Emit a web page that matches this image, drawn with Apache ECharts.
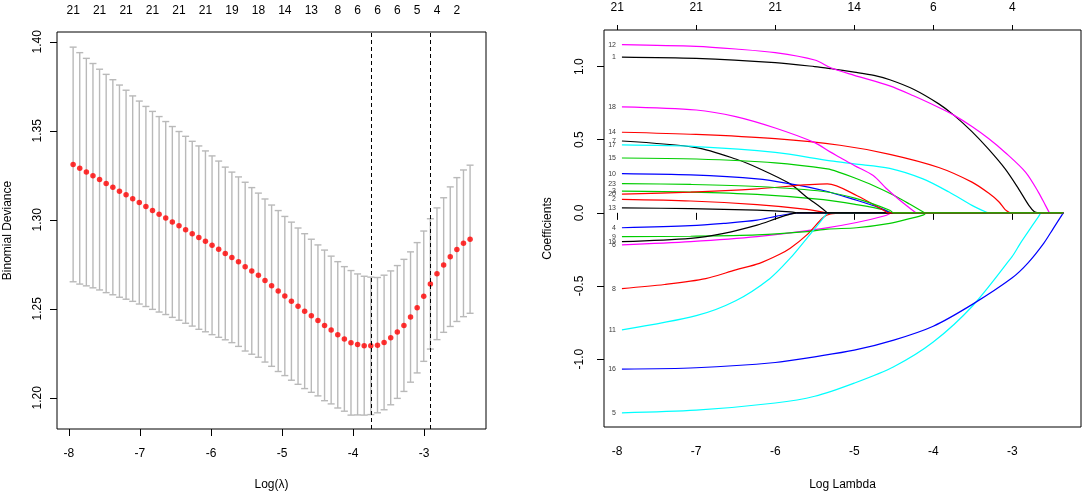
<!DOCTYPE html>
<html>
<head>
<meta charset="utf-8">
<title>cv.glmnet</title>
<script src="https://cdn.jsdelivr.net/npm/echarts@6/dist/echarts.min.js"></script>
<style>
  html, body { margin: 0; padding: 0; background: #fff; }
  #chart { width: 1084px; height: 496px; }
</style>
</head>
<body>
<div id="chart"></div>
<script>
// ---- left panel: cross-validated binomial deviance ----
var logLambda = [-7.940,-7.847,-7.754,-7.661,-7.568,-7.475,-7.381,-7.288,-7.195,-7.102,
  -7.009,-6.916,-6.823,-6.730,-6.637,-6.544,-6.450,-6.357,-6.264,-6.171,
  -6.078,-5.985,-5.892,-5.799,-5.706,-5.613,-5.519,-5.426,-5.333,-5.240,
  -5.147,-5.054,-4.961,-4.868,-4.775,-4.682,-4.588,-4.495,-4.402,-4.309,
  -4.216,-4.123,-4.030,-3.937,-3.844,-3.751,-3.657,-3.564,-3.471,-3.378,
  -3.285,-3.192,-3.099,-3.006,-2.913,-2.820,-2.726,-2.633,-2.540,-2.447,-2.354];
var cvMean = [1.3311,1.3289,1.3268,1.3248,1.3226,1.3204,1.3183,1.3161,1.3141,1.3119,
  1.3097,1.3075,1.3053,1.3031,1.3010,1.2988,1.2966,1.2944,1.2922,1.2900,
  1.2879,1.2857,1.2835,1.2811,1.2789,1.2765,1.2737,1.2713,1.2689,1.2659,
  1.2630,1.2600,1.2572,1.2543,1.2515,1.2487,1.2461,1.2435,1.2407,1.2381,
  1.2354,1.2331,1.2309,1.2300,1.2293,1.2292,1.2296,1.2311,1.2337,1.2370,
  1.2407,1.2454,1.2506,1.2571,1.2640,1.2697,1.2746,1.2793,1.2833,1.2868,1.2891];
var cvUpper = [1.3970,1.3939,1.3907,1.3878,1.3846,1.3817,1.3787,1.3757,1.3728,1.3696,
  1.3667,1.3637,1.3609,1.3580,1.3552,1.3524,1.3496,1.3469,1.3441,1.3415,
  1.3387,1.3359,1.3330,1.3296,1.3268,1.3241,1.3211,1.3181,1.3150,1.3117,
  1.3083,1.3052,1.3019,1.2987,1.2954,1.2922,1.2891,1.2859,1.2830,1.2796,
  1.2765,1.2737,1.2715,1.2696,1.2683,1.2678,1.2676,1.2689,1.2713,1.2743,
  1.2778,1.2820,1.2872,1.2937,1.3006,1.3067,1.3124,1.3185,1.3237,1.3280,1.3307];
var cvLower = [1.2652,1.2639,1.2629,1.2618,1.2606,1.2591,1.2579,1.2565,1.2554,1.2542,
  1.2527,1.2513,1.2497,1.2482,1.2468,1.2452,1.2436,1.2419,1.2403,1.2385,
  1.2371,1.2355,1.2340,1.2326,1.2310,1.2289,1.2263,1.2245,1.2228,1.2201,
  1.2177,1.2148,1.2125,1.2099,1.2076,1.2052,1.2031,1.2011,1.1984,1.1966,
  1.1943,1.1925,1.1903,1.1904,1.1903,1.1906,1.1916,1.1933,1.1961,1.1997,
  1.2036,1.2088,1.2140,1.2205,1.2274,1.2327,1.2368,1.2401,1.2429,1.2456,1.2475];
var logLambdaMin = -3.751;
var logLambda1se = -2.913;
var nzTopX = [-7.940,-7.568,-7.195,-6.823,-6.450,-6.078,-5.706,-5.333,-4.961,-4.588,
  -4.216,-3.937,-3.657,-3.378,-3.099,-2.820,-2.540];
var nzTopLabels = ['21','21','21','21','21','21','19','18','14','13','8','6','6','6','5','4','2'];
var devTicks = [1.20, 1.25, 1.30, 1.35, 1.40];
var xTicks = [-8, -7, -6, -5, -4, -3];

// ---- right panel: coefficient paths (each ends where it reaches zero) ----
var path1 = [[-7.94,1.065],[-7,1.056],[-6,1.027],[-5.5,1.0],[-5.29,0.985],[-5,0.962],[-4.75,0.94],[-4.55,0.91],[-4.25,0.845],[-3.93,0.745],[-3.74,0.668],[-3.51,0.555],[-3.3,0.435],[-3.09,0.3],[-2.92,0.164],[-2.79,0.051],[-2.72,0.008],[-2.67,0]];
var path2 = [[-7.94,0.092],[-7.07,0.081],[-6.23,0.056],[-5.6,0.024],[-5.35,0]];
var path3 = [[-7.94,0.148],[-7.07,0.142],[-6.23,0.126],[-5.39,0.09],[-4.97,0.056],[-4.6,0.018],[-4.53,0]];
var path4 = [[-7.94,-0.102],[-7.07,-0.088],[-6.65,-0.072],[-6.23,-0.05],[-5.98,-0.022],[-5.81,-0.007],[-5.73,0]];
var path5 = [[-7.94,-1.367],[-7,-1.349],[-6,-1.3],[-5.5,-1.254],[-5,-1.164],[-4.5,-1.052],[-4,-0.883],[-3.5,-0.635],[-3,-0.297],[-2.9,-0.21],[-2.77,-0.106],[-2.67,-0.027],[-2.64,0]];
var path6 = [[-7.94,-0.219],[-7.07,-0.197],[-6.23,-0.163],[-5.39,-0.106],[-4.97,-0.066],[-4.6,-0.018],[-4.53,0]];
var path7 = [[-7.94,0.491],[-7,0.446],[-6.5,0.368],[-6.19,0.3],[-5.81,0.198],[-5.6,0.107],[-5.43,0.04],[-5.34,0]];
var path8 = [[-7.94,-0.518],[-7.4,-0.49],[-6.88,-0.45],[-6.5,-0.39],[-6.2,-0.345],[-5.95,-0.285],[-5.81,-0.242],[-5.6,-0.151],[-5.39,-0.03],[-5.3,-0.008],[-5.14,0]];
var path9 = [[-7.94,-0.163],[-7.07,-0.16],[-6.23,-0.151],[-5.6,-0.129],[-5.34,-0.111],[-4.97,-0.102],[-4.55,-0.072],[-4.3,-0.04],[-4.13,-0.016],[-4.09,0]];
var path10 = [[-7.94,0.268],[-7.07,0.259],[-6.23,0.232],[-5.81,0.198],[-5.39,0.153],[-4.97,0.086],[-4.68,0.034],[-4.55,0]];
var path11 = [[-7.94,-0.8],[-7,-0.703],[-6.5,-0.601],[-6.07,-0.45],[-5.81,-0.31],[-5.6,-0.174],[-5.43,-0.061],[-5.34,0]];
var path12 = [[-7.94,1.15],[-7,1.138],[-6.5,1.12],[-6,1.095],[-5.5,1.045],[-5.29,0.99],[-5,0.94],[-4.55,0.868],[-4.25,0.8],[-3.93,0.72],[-3.74,0.668],[-3.51,0.59],[-3.3,0.508],[-3.09,0.413],[-2.83,0.277],[-2.67,0.142],[-2.58,0.051],[-2.53,0]];
var path13 = [[-7.94,0.034],[-7.07,0.029],[-6.23,0.018],[-5.81,0.007],[-5.73,0]];
var path14 = [[-7.94,0.551],[-7,0.536],[-6,0.507],[-5.18,0.462],[-4.55,0.4],[-3.93,0.31],[-3.51,0.21],[-3.3,0.135],[-3.17,0.076],[-3.09,0.022],[-3.03,0]];
var path15 = [[-7.94,0.375],[-7,0.368],[-6,0.342],[-5.34,0.3],[-5.18,0.275],[-5,0.24],[-4.76,0.187],[-4.5,0.12],[-4.3,0.06],[-4.11,0]];
var path16 = [[-7.94,-1.068],[-7,-1.059],[-6,-1.023],[-5.5,-0.984],[-5,-0.939],[-4.5,-0.87],[-4,-0.775],[-3.5,-0.624],[-3,-0.444],[-2.8,-0.342],[-2.6,-0.207],[-2.48,-0.106],[-2.354,0]];
var path17 = [[-7.94,0.464],[-7,0.453],[-6,0.413],[-5.3,0.355],[-5,0.335],[-4.55,0.304],[-4.13,0.232],[-3.8,0.142],[-3.51,0.051],[-3.34,0.007],[-3.3,0]];
var path18 = [[-7.94,0.725],[-7,0.703],[-6.5,0.658],[-6,0.58],[-5.5,0.48],[-5.3,0.415],[-5.18,0.379],[-5,0.324],[-4.76,0.255],[-4.6,0.17],[-4.43,0.09],[-4.22,0]];
var path19 = [[-7.94,-0.197],[-7.07,-0.174],[-6.65,-0.14],[-6.23,-0.084],[-5.98,-0.038],[-5.81,-0.009],[-5.73,0]];
var path20 = [[-7.94,0.128],[-7.07,0.142],[-6.23,0.164],[-5.34,0.198],[-4.97,0.119],[-4.63,0.018],[-4.58,0]];
var path23 = [[-7.94,0.2],[-7.07,0.194],[-6.23,0.18],[-5.39,0.146],[-4.97,0.097],[-4.55,0.018],[-4.51,0]];
var paths = [path1,path2,path3,path4,path5,path6,path7,path8,path9,path10,path11,
  path12,path13,path14,path15,path16,path17,path18,path19,path20,path23];
var pathNames = ['1','2','3','4','5','6','7','8','9','10','11','12','13','14','15','16','17','18','19','20','23'];
var coefTicks = [-1.0, -0.5, 0.0, 0.5, 1.0];
var dfTopLabels = ['21','21','21','14','6','4'];

var palette = ['#000000', '#ff0000', '#00cd00', '#0000ff', '#00ffff', '#ff00ff'];
var FONT = '"Liberation Sans", Arial, sans-serif';
var xMin = -8.167, xMax = -2.13;

var chart = echarts.init(document.getElementById('chart'));

function bottomAxis(grid, gap, name) {
  return {
    type: 'value', gridIndex: grid, position: 'bottom', min: xMin, max: xMax,
    name: name, nameLocation: 'middle', nameGap: gap,
    nameTextStyle: { color: '#000', fontSize: 12, fontFamily: FONT },
    axisLine: { show: false },
    axisTick: { show: true, inside: false, length: 7, customValues: xTicks, lineStyle: { color: '#000' } },
    axisLabel: { customValues: xTicks, margin: 19, color: '#000', fontSize: 12, fontFamily: FONT },
    splitLine: { show: false }
  };
}

function nearestLabel(v, xs, labels) {
  var best = 0;
  for (var i = 1; i < xs.length; i++) {
    if (Math.abs(xs[i] - v) < Math.abs(xs[best] - v)) best = i;
  }
  return labels[best];
}

var series = [];

// error bars
series.push({
  type: 'custom', xAxisIndex: 0, yAxisIndex: 0, silent: true,
  data: logLambda.map(function (x, i) { return [x, cvLower[i], cvUpper[i]]; }),
  encode: { x: 0, y: [1, 2] },
  renderItem: function (params, api) {
    var x = api.value(0);
    var lo = api.coord([x, api.value(1)]);
    var hi = api.coord([x, api.value(2)]);
    var w = 3.5;
    var st = { stroke: '#b9b9b9', lineWidth: 1.4 };
    return {
      type: 'group',
      children: [
        { type: 'line', shape: { x1: lo[0], y1: lo[1], x2: hi[0], y2: hi[1] }, style: st },
        { type: 'line', shape: { x1: hi[0] - w, y1: hi[1], x2: hi[0] + w, y2: hi[1] }, style: st },
        { type: 'line', shape: { x1: lo[0] - w, y1: lo[1], x2: lo[0] + w, y2: lo[1] }, style: st }
      ]
    };
  }
});

// mean deviance points + lambda.min / lambda.1se
series.push({
  type: 'scatter', xAxisIndex: 0, yAxisIndex: 0, silent: true,
  symbol: 'circle', symbolSize: 5.5,
  itemStyle: { color: '#ff0000' },
  data: logLambda.map(function (x, i) { return [x, cvMean[i]]; }),
  markLine: {
    silent: true, symbol: 'none', label: { show: false },
    lineStyle: { color: '#000', type: [4, 3], width: 1 },
    data: [{ xAxis: logLambdaMin }, { xAxis: logLambda1se }]
  }
});

// coefficient paths, drawn in column order
paths.forEach(function (p, i) {
  var col = palette[i % 6];
  series.push({
    type: 'line', xAxisIndex: 2, yAxisIndex: 1, silent: true,
    showSymbol: false, smooth: 0.3,
    lineStyle: { color: col, width: 1.2 },
    data: p
  });
  var last = p[p.length - 1];
  series.push({
    type: 'line', xAxisIndex: 2, yAxisIndex: 1, silent: true,
    showSymbol: false,
    lineStyle: { color: col, width: 1.2 },
    data: [last, [logLambda[logLambda.length - 1], 0]]
  });
});

// variable labels at the left end of each path
series.push({
  type: 'scatter', xAxisIndex: 2, yAxisIndex: 1, silent: true,
  symbolSize: 0,
  itemStyle: { color: 'transparent' },
  label: { show: true, position: 'left', distance: 6, formatter: '{b}', color: '#000', fontSize: 7, fontFamily: FONT },
  data: paths.map(function (p, i) { return { name: pathNames[i], value: p[0] }; })
});

var option = {
  animation: false,
  backgroundColor: '#fff',
  textStyle: { fontFamily: FONT },
  grid: [
    { left: 57, right: 598, top: 32, bottom: 63, show: true, borderColor: '#000', borderWidth: 1 },
    { left: 604, right: 3, top: 30, bottom: 66, show: true, borderColor: '#000', borderWidth: 1 }
  ],
  xAxis: [
    bottomAxis(0, 50, 'Log(λ)'),
    {
      type: 'value', gridIndex: 0, position: 'top', min: xMin, max: xMax,
      axisLine: { show: false }, axisTick: { show: false }, splitLine: { show: false },
      axisLabel: {
        customValues: nzTopX, margin: 15, color: '#000', fontSize: 12, fontFamily: FONT,
        formatter: function (v) { return nearestLabel(v, nzTopX, nzTopLabels); }
      }
    },
    bottomAxis(1, 52, 'Log Lambda'),
    {
      type: 'value', gridIndex: 1, position: 'top', min: xMin, max: xMax,
      axisLine: { show: false }, splitLine: { show: false },
      axisTick: { show: true, inside: false, length: 5, customValues: xTicks, lineStyle: { color: '#000' } },
      axisLabel: {
        customValues: xTicks, margin: 16, color: '#000', fontSize: 12, fontFamily: FONT,
        formatter: function (v) { return nearestLabel(v, xTicks, dfTopLabels); }
      }
    }
  ],
  yAxis: [
    {
      type: 'value', gridIndex: 0, min: 1.1825, max: 1.4055,
      name: 'Binomial Deviance', nameLocation: 'middle', nameGap: 43, nameRotate: 90,
      nameTextStyle: { color: '#000', fontSize: 12, fontFamily: FONT },
      axisLine: { show: false }, splitLine: { show: false },
      axisTick: { show: true, inside: false, length: 7, customValues: devTicks, lineStyle: { color: '#000' } },
      axisLabel: {
        customValues: devTicks, rotate: 90, margin: 13, color: '#000', fontSize: 12, fontFamily: FONT,
        formatter: function (v) { return v.toFixed(2); }
      }
    },
    {
      type: 'value', gridIndex: 1, min: -1.464, max: 1.25,
      name: 'Coefficients', nameLocation: 'middle', nameGap: 50, nameRotate: 90,
      nameTextStyle: { color: '#000', fontSize: 12, fontFamily: FONT },
      axisLine: { show: false }, splitLine: { show: false },
      axisTick: { show: true, inside: false, length: 7, customValues: coefTicks, lineStyle: { color: '#000' } },
      axisLabel: {
        customValues: coefTicks, rotate: 90, margin: 18, color: '#000', fontSize: 12, fontFamily: FONT,
        formatter: function (v) { return v.toFixed(1); }
      }
    }
  ],
  series: series
};

chart.setOption(option);
</script>
</body>
</html>
